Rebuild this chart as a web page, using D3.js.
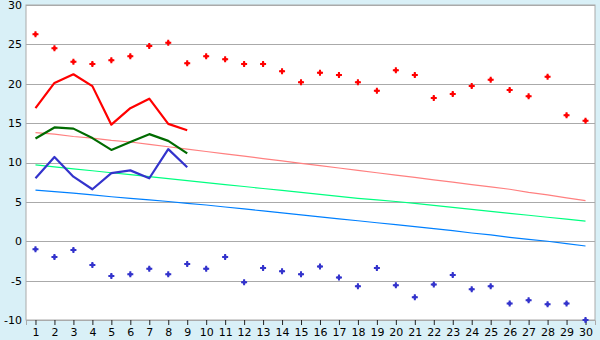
<!DOCTYPE html>
<html>
<head>
<meta charset="utf-8">
<script src="https://cdn.jsdelivr.net/npm/d3@7"></script>
<style>
  body { margin: 0; background: #d9f0f7; }
  text { font-family: "DejaVu Sans", Verdana, sans-serif; font-size: 11px; fill: #000; }
</style>
</head>
<body>
<script>
// days of the month
var days = d3.range(1, 31);
var yTicks = [-10, -5, 0, 5, 10, 15, 20, 25, 30];

// record highs / lows (dots)
var recordMax = [26.3, 24.5, 22.8, 22.5, 23.0, 23.5, 24.8, 25.2, 22.6, 23.5,
                 23.1, 22.5, 22.5, 21.6, 20.2, 21.4, 21.1, 20.2, 19.1, 21.7,
                 21.1, 18.2, 18.7, 19.7, 20.5, 19.2, 18.4, 20.9, 16.0, 15.3];
var recordMin = [-1.0, -2.0, -1.1, -3.0, -4.4, -4.2, -3.5, -4.2, -2.9, -3.5,
                 -2.0, -5.2, -3.4, -3.8, -4.2, -3.2, -4.6, -5.7, -3.4, -5.6,
                 -7.1, -5.5, -4.3, -6.1, -5.7, -7.9, -7.5, -8.0, -7.9, -10.0];

// observed values, first 9 days
var obsMax  = [16.9, 20.1, 21.2, 19.7, 14.8, 16.9, 18.1, 14.9, 14.1];
var obsMean = [13.05, 14.45, 14.3, 13.1, 11.6, 12.6, 13.6, 12.75, 11.15];
var obsMin  = [8.0, 10.7, 8.2, 6.6, 8.65, 9.0, 8.0, 11.7, 9.4];

// normals
var normMax  = [13.8, 13.6, 13.3, 13.1, 12.8, 12.6, 12.3, 12.0, 11.7, 11.4,
                11.1, 10.8, 10.5, 10.2, 9.9, 9.6, 9.3, 9.0, 8.7, 8.4,
                8.1, 7.8, 7.5, 7.2, 6.9, 6.6, 6.2, 5.9, 5.5, 5.15];
var normMean = [9.7, 9.45, 9.2, 8.95, 8.7, 8.45, 8.2, 7.95, 7.7, 7.45,
                7.2, 6.95, 6.7, 6.45, 6.2, 5.95, 5.7, 5.45, 5.25, 5.05,
                4.8, 4.55, 4.3, 4.05, 3.8, 3.55, 3.3, 3.05, 2.8, 2.55];
var normMin  = [6.5, 6.3, 6.1, 5.9, 5.65, 5.45, 5.25, 5.05, 4.8, 4.6,
                4.35, 4.1, 3.85, 3.6, 3.35, 3.1, 2.85, 2.6, 2.35, 2.1,
                1.85, 1.6, 1.35, 1.05, 0.8, 0.5, 0.25, 0.0, -0.3, -0.6];

var svgWidth = 600, svgHeight = 340;
var margin = {top: 5, right: 5, bottom: 20, left: 26},
    width = svgWidth - margin.left - margin.right,
    height = svgHeight - margin.top - margin.bottom;

var svg = d3.select("body").append("svg")
    .attr("width", svgWidth)
    .attr("height", svgHeight);

var g = svg.append("g")
    .attr("transform", "translate(" + margin.left + "," + margin.top + ")");

var x = d3.scalePoint().domain(days).range([0, width]).padding(0.5);
var y = d3.scaleLinear().domain([-10, 30]).range([height, 0]);

// plot background
g.append("rect")
    .attr("width", width).attr("height", height)
    .attr("fill", "#fff")
    .attr("stroke", "#aaa");

// grid
g.selectAll(".grid").data(yTicks).enter().append("line")
    .attr("x1", 0).attr("x2", width)
    .attr("y1", function(d) { return Math.round(y(d)) + 0.5; })
    .attr("y2", function(d) { return Math.round(y(d)) + 0.5; })
    .attr("stroke", "#aaa");

// y labels
g.selectAll(".ylab").data(yTicks).enter().append("text")
    .attr("x", -4)
    .attr("y", function(d) { return y(d); })
    .attr("dy", "0.36em")
    .attr("text-anchor", "end")
    .text(function(d) { return d < 0 ? "-" + (-d) : d; });

// x axis
var xAxis = d3.axisBottom(x).tickSize(5).tickPadding(3);
var ax = g.append("g")
    .attr("transform", "translate(0," + height + ")")
    .call(xAxis);
ax.select(".domain").attr("stroke", "#aaa");
ax.selectAll(".tick line").attr("stroke", "#222");
ax.selectAll(".tick text").style("font-family", "DejaVu Sans, Verdana, sans-serif").style("font-size", "11px");

function line(vals) {
  return d3.line()
    .x(function(d, i) { return x(days[i]); })
    .y(function(d) { return y(d); })(vals);
}

// normals (thin)
[[normMax, "#ff8080"], [normMean, "#00ff80"], [normMin, "#0080ff"]].forEach(function(s) {
  g.append("path").attr("d", line(s[0]))
    .attr("fill", "none").attr("stroke", s[1]).attr("stroke-width", 1.2);
});

// observed (thick)
[[obsMax, "#ff0000"], [obsMean, "#006b00"], [obsMin, "#3333cc"]].forEach(function(s) {
  g.append("path").attr("d", line(s[0]))
    .attr("fill", "none").attr("stroke", s[1]).attr("stroke-width", 2.2)
    .attr("stroke-linejoin", "round");
});

// record markers: small cross + diamond
var cross = d3.symbol().type(d3.symbolCross).size(20);
var diamond = d3.symbol().type(d3.symbolSquare).size(12);
[[recordMax, "#ff0000"], [recordMin, "#3333cc"]].forEach(function(s) {
  var m = g.selectAll(null).data(s[0]).enter().append("g")
    .attr("transform", function(d, i) {
      return "translate(" + x(days[i]) + "," + y(d) + ")";
    })
    .attr("fill", s[1]);
  m.append("path").attr("d", cross);
  m.append("path").attr("d", diamond).attr("transform", "rotate(45)");
});
</script>
</body>
</html>
